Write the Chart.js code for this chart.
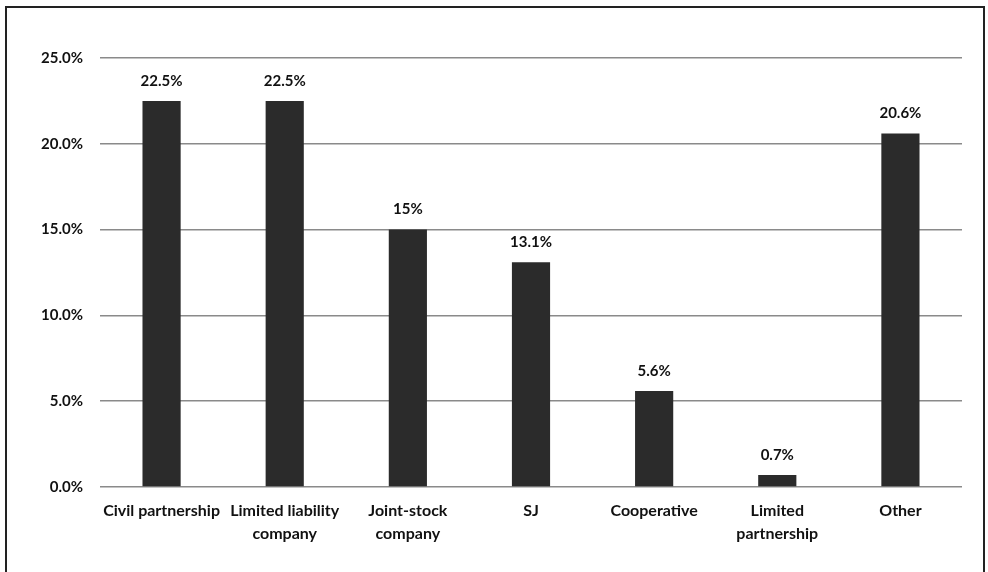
<!DOCTYPE html>
<html lang="en">
<head>
    <meta charset="UTF-8">
    <script src="https://cdn.jsdelivr.net/npm/chart.js"></script>
    <title>Legal forms</title>
    <style>
        body { margin: 0; background: #fff; overflow: hidden; }
        .frame {
            position: absolute; left: 5px; top: 6px; width: 980px; height: 600px;
            border: 2px solid #222; box-sizing: border-box;
        }
        .box { position: absolute; left: 0; top: 0; width: 988px; height: 572px; }
    </style>
</head>
<body>
    <div class="frame"></div>
    <div class="box"><canvas id="myChart" width="988" height="572"></canvas></div>
<script>
    // categories (multi-line ones as arrays)
    const categorias = [
        'Civil partnership',
        ['Limited liability', 'company'],
        ['Joint-stock', 'company'],
        'SJ',
        'Cooperative',
        ['Limited', 'partnership'],
        'Other'
    ];
    const valores = [22.5, 22.5, 15, 13.1, 5.6, 0.7, 20.6];
    const ticksY = [0, 5, 10, 15, 20, 25];

    const fonte = { family: 'Lato', size: 15, weight: 'bold' };
    const fonteX = { family: 'Lato', size: 16, weight: 'bold', lineHeight: 1.45 };

    function rotulo(v) {
        return (v % 1 === 0 ? v : v.toFixed(1)) + '%';
    }

    // draws the value above every bar
    const rotulosBarras = {
        id: 'rotulosBarras',
        afterDatasetsDraw(chart) {
            const ctx = chart.ctx;
            const meta = chart.getDatasetMeta(0);
            ctx.save();
            ctx.font = 'bold 15px Lato';
            ctx.fillStyle = '#111';
            ctx.textAlign = 'center';
            ctx.textBaseline = 'middle';
            meta.data.forEach((bar, i) => {
                ctx.fillText(rotulo(valores[i]), bar.x, bar.y - 20);
            });
            ctx.restore();
        }
    };

    var ctx = document.getElementById('myChart').getContext('2d');
    var myChart = new Chart(ctx, {
        type: 'bar',
        data: {
            labels: categorias,
            datasets: [{
                data: valores,
                backgroundColor: '#2b2b2b',
                borderWidth: 0,
                categoryPercentage: 1,
                barPercentage: 0.31
            }]
        },
        options: {
            responsive: false,
            animation: false,
            layout: { padding: { left: 0, right: 26, top: 58, bottom: 25 } },
            plugins: { legend: { display: false }, tooltip: { enabled: false } },
            scales: {
                x: {
                    grid: { display: false, drawTicks: false },
                    border: { display: false },
                    ticks: { color: '#111', font: fonteX, padding: 12, maxRotation: 0, autoSkip: false },
                    afterFit(scale) { scale.height = 60; }
                },
                y: {
                    min: 0,
                    max: 25,
                    afterBuildTicks(scale) { scale.ticks = ticksY.map(v => ({ value: v })); },
                    grid: { color: '#8a8a8a', lineWidth: 1.5, drawTicks: false },
                    border: { display: false },
                    ticks: {
                        color: '#111', font: fonte, padding: 17,
                        callback: v => v.toFixed(1) + '%'
                    },
                    afterFit(scale) { scale.width = 100; }
                }
            }
        },
        plugins: [rotulosBarras]
    });
</script>
</body>
</html>
